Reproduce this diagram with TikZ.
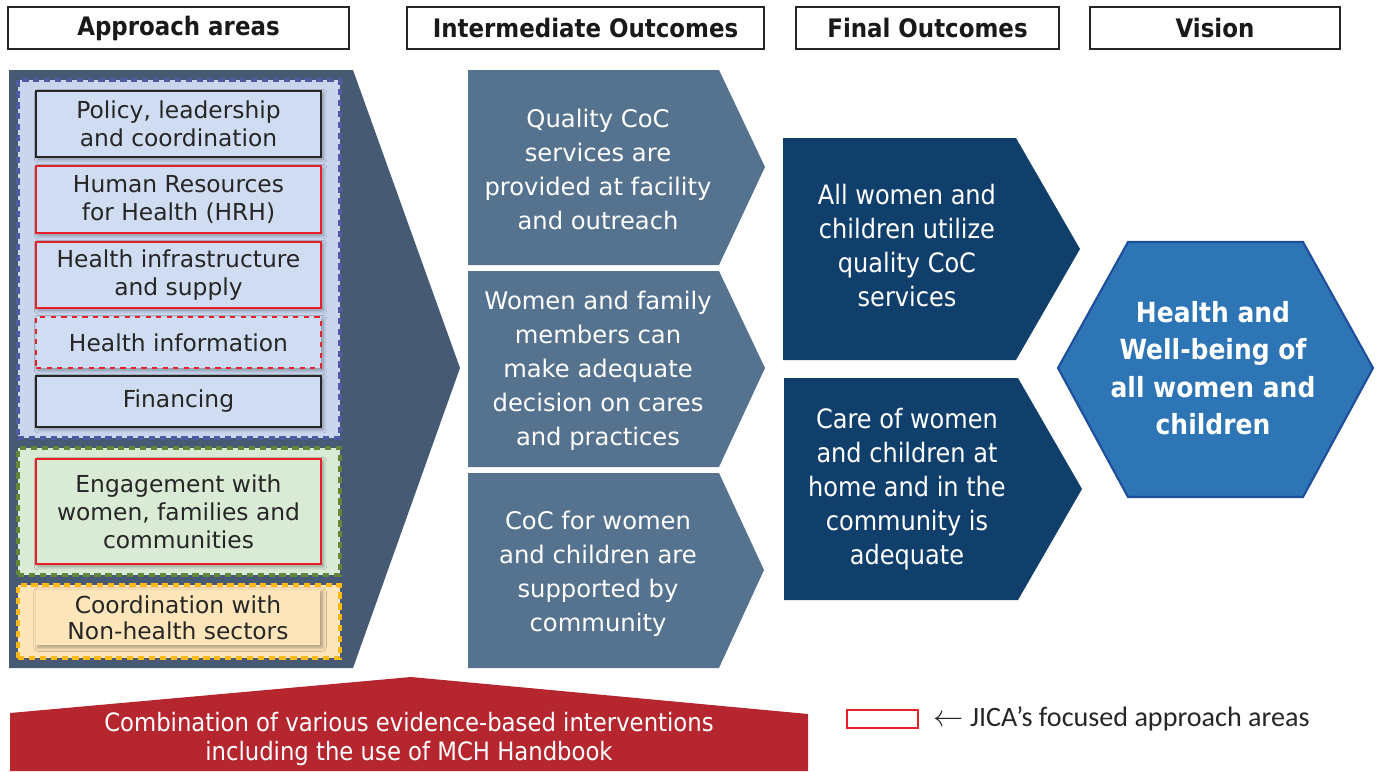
\documentclass[tikz,border=0pt]{standalone}
\usepackage{fontspec}
\setmainfont{DejaVu Sans}
\newfontfamily\condfont{DejaVu Sans Condensed}
\newfontfamily\keyfont{Carlito}
\usetikzlibrary{shadows.blur}

\definecolor{slate}{HTML}{465B73}
\definecolor{paleblue}{HTML}{C9D6EE}
\definecolor{boxblue}{HTML}{D0DCF1}
\definecolor{dashblue}{HTML}{4F5BA0}
\definecolor{palegreen}{HTML}{D9EAD5}
\definecolor{dashgreen}{HTML}{63873A}
\definecolor{paleorange}{HTML}{FFE6BA}
\definecolor{dashorange}{HTML}{FBB817}
\definecolor{midblue}{HTML}{55738F}
\definecolor{navy}{HTML}{103F6C}
\definecolor{hexblue}{HTML}{2E75B6}
\definecolor{hexline}{HTML}{1F4E9A}
\definecolor{jred}{HTML}{E8202A}
\definecolor{wine}{HTML}{B5262E}

\begin{document}
\begin{tikzpicture}[x=0.02cm,y=-0.02cm,
    head/.style={draw=black!85,line width=1.1pt,minimum width=#1,minimum height=0.84cm,
      font=\condfont\bfseries\fontsize{14.5}{17}\selectfont,text=black!90},
    group/.style={line width=1.8pt,dash pattern=on 3.6pt off 2.6pt,minimum width=6.44cm},
    area/.style={fill=boxblue,draw=black!85,line width=1pt,minimum width=5.7cm,align=center,
      font=\fontsize{13.3}{15.9}\selectfont,text=black!85,
      blur shadow={shadow xshift=1.2pt,shadow yshift=-1.2pt,shadow blur steps=4,shadow opacity=35}},
    focus/.style={draw=jred},
    outtext/.style={text=white,align=center,font=\fontsize{13.8}{19.35}\selectfont},
    fintext/.style={text=white,align=center,font=\condfont\fontsize{15.2}{19.35}\selectfont}]
  \useasboundingbox (0,0) rectangle (1383,771);

  % column headers
  \node[head=6.82cm] (appr) at (178.5,28) {Approach areas};
  \node[head=7.14cm] (inter) at (585.5,28) {Intermediate Outcomes};
  \node[head=5.26cm] (final) at (927.5,28) {Final Outcomes};
  \node[head=5.0cm] (vision) at (1215,28) {Vision};

  % approach areas
  \fill[slate] (9,70) -- (353,70) -- (460,368) -- (353,668) -- (9,668) -- cycle;
  \node[group,fill=paleblue,draw=dashblue,minimum height=7.16cm] (sys) at (179,259) {};
  \node[group,fill=palegreen,draw=dashgreen,minimum height=2.54cm] (comm) at (179,511.5) {};
  \node[group,fill=paleorange,draw=dashorange,minimum height=1.46cm] (other) at (179,621.5) {};

  \node[area,minimum height=1.32cm] (policy) at (178.5,124) {Policy, leadership\\and coordination};
  \node[area,focus,minimum height=1.34cm] (hrh) at (178.5,199.5) {Human Resources\\for Health (HRH)};
  \node[area,focus,minimum height=1.32cm] (infra) at (178.5,275) {Health infrastructure\\and supply};
  \node[area,focus,dashed,minimum height=1.02cm] (info) at (178.5,342.5) {Health information};
  \node[area,minimum height=1.02cm] (fin) at (178.5,401.5) {Financing};
  \node[area,focus,fill=palegreen,minimum height=2.1cm] (engage) at (178.5,511.5) {Engagement with\\women, families and\\communities};
  \node[area,draw=none,fill=paleorange,minimum height=1.06cm,font=\fontsize{13.3}{14.8}\selectfont] (coord) at (178,617.5) {Coordination with\\Non-health sectors};

  % intermediate outcomes
  \fill[midblue] (468,70) -- (719,70) -- (765,167) -- (719,265) -- (468,265) -- cycle;
  \fill[midblue] (468,271) -- (719,271) -- (765,368) -- (719,467) -- (468,467) -- cycle;
  \fill[midblue] (468,473) -- (719,473) -- (764,570) -- (719,668) -- (468,668) -- cycle;
  \node[outtext] (quality) at (598,169) {Quality CoC\\services are\\provided at facility\\and outreach};
  \node[outtext] (decide) at (598,371) {Women and family\\members can\\make adequate\\decision on cares\\and practices};
  \node[outtext] (support) at (598,574) {CoC for women\\and children are\\supported by\\community};

  % final outcomes
  \fill[navy] (783,138) -- (1016,138) -- (1080,249) -- (1016,360) -- (783,360) -- cycle;
  \fill[navy] (784,378) -- (1018,378) -- (1082,489) -- (1018,600) -- (784,600) -- cycle;
  \node[fintext] (utilize) at (907,246) {All women and\\children utilize\\quality CoC\\services};
  \node[fintext] (care) at (907,489) {Care of women\\and children at\\home and in the\\community is\\adequate};

  % vision
  \filldraw[fill=hexblue,draw=hexline,line width=1.2pt] (1058,368) -- (1128,242) -- (1303,242)
    -- (1373,368) -- (1303,497) -- (1128,497) -- cycle;
  \node[text=white,align=center,font=\condfont\bfseries\fontsize{15.8}{21.3}\selectfont] (goal) at (1213,368)
    {Health and\\Well-being of\\all women and\\children};

  % base
  \fill[wine] (10,771) -- (10,713) -- (411,677) -- (808,714) -- (808,771) -- cycle;
  \node[text=white,align=center,font=\condfont\fontsize{14.4}{16}\selectfont] (combo) at (409,739)
    {Combination of various evidence-based interventions\\including the use of MCH Handbook};

  % key
  \node[draw=jred,line width=1.3pt,minimum width=1.42cm,minimum height=0.36cm] (key) at (882.5,719) {};
  \node[anchor=west,inner sep=0pt,font=\keyfont\fontsize{16}{18}\selectfont,text=black!85] (keytext) at (933,719)
    {$\leftarrow$ JICA’s focused approach areas};
\end{tikzpicture}
\end{document}
